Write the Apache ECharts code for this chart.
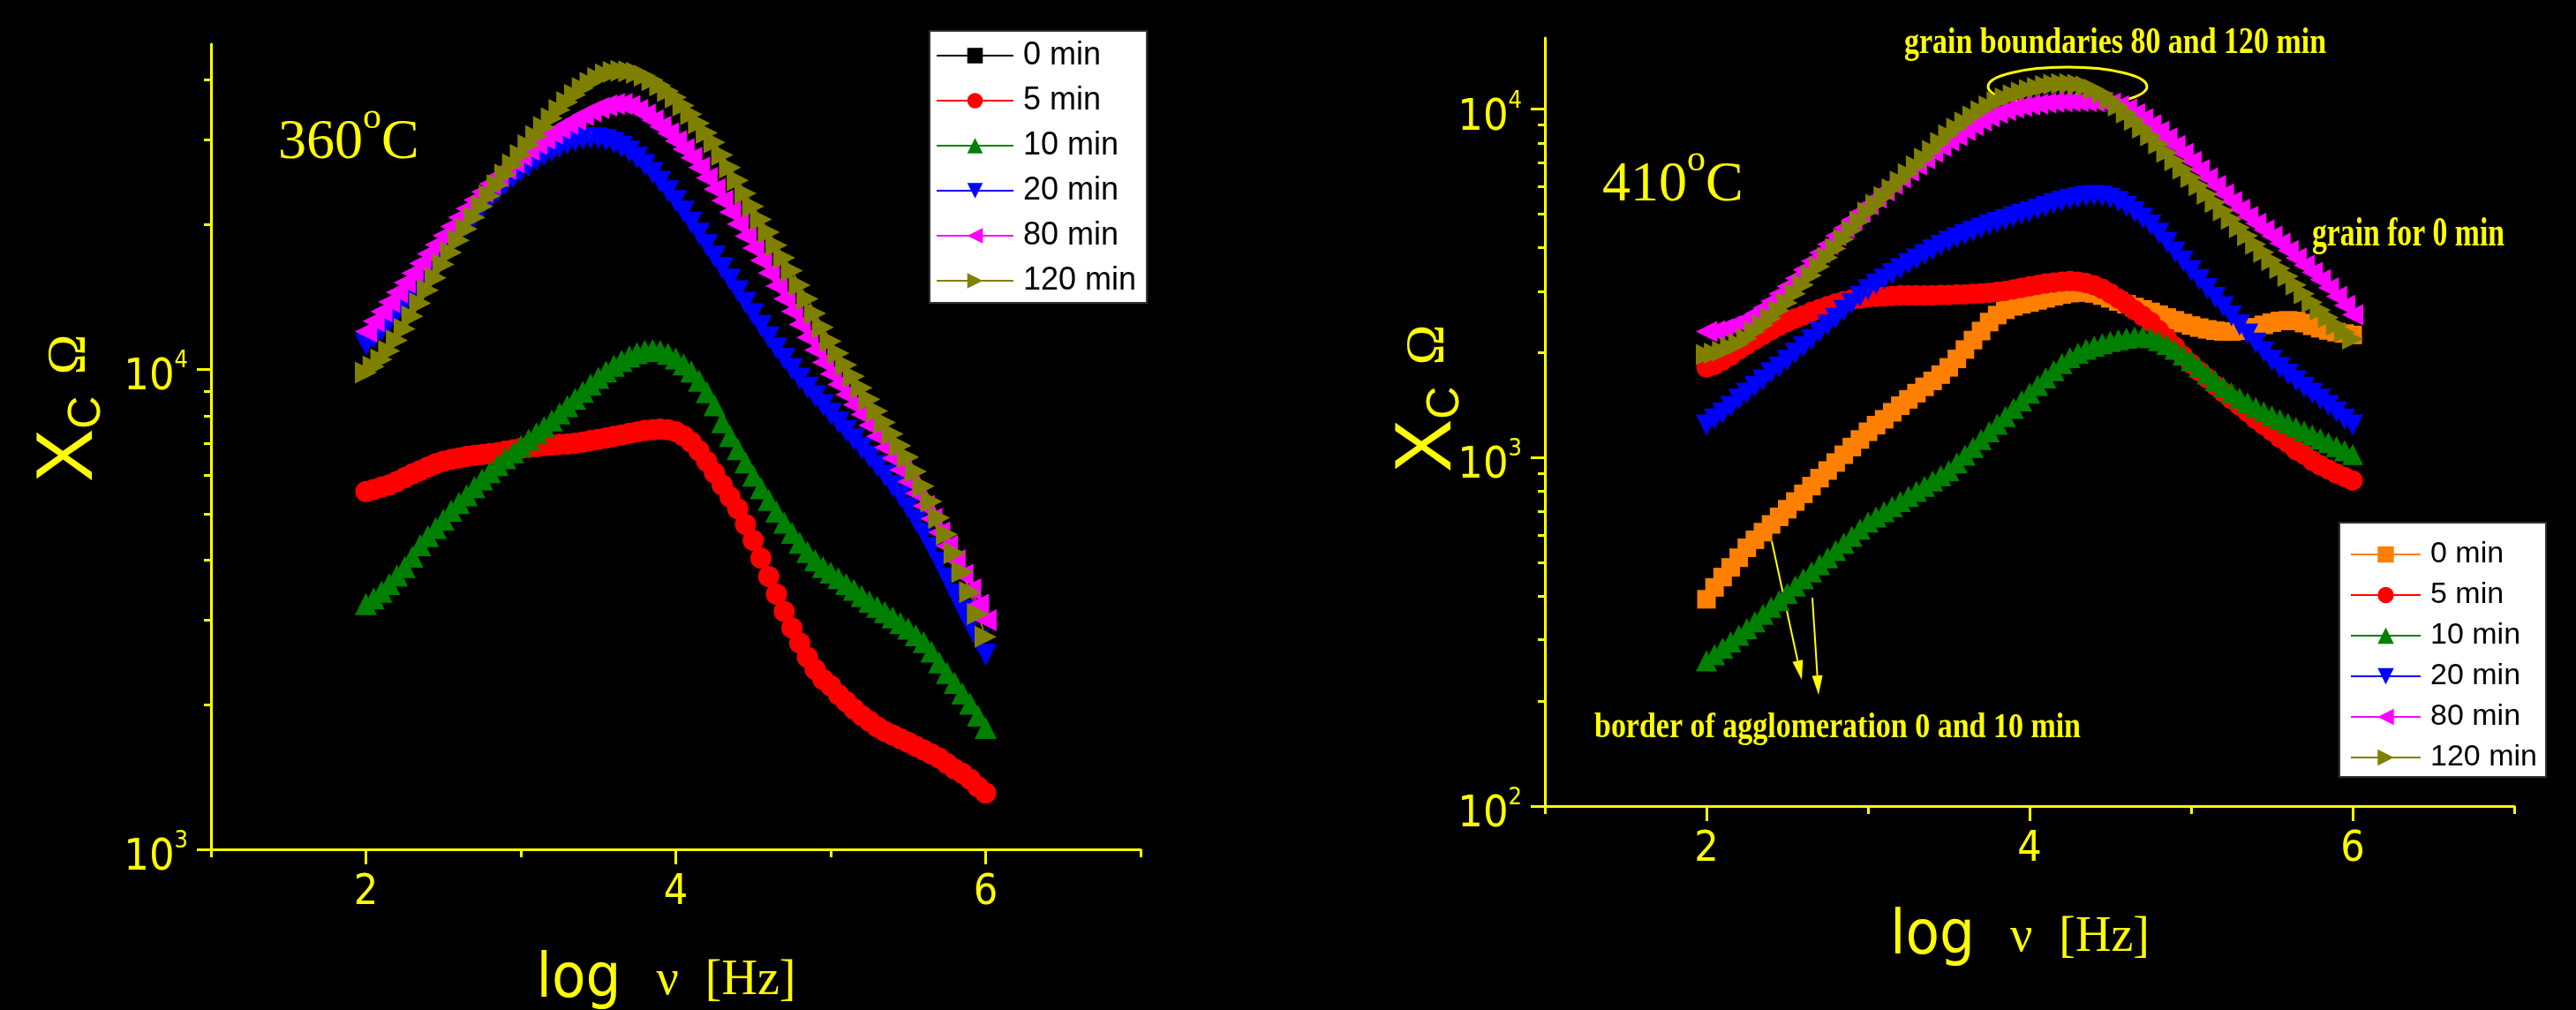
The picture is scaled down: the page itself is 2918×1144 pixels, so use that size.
<!DOCTYPE html>
<html><head><meta charset="utf-8">
<script src="https://cdn.jsdelivr.net/npm/echarts@6/dist/echarts.min.js"></script>
<style>html,body{margin:0;padding:0;background:#000;}#c{width:2918px;height:1144px;}</style>
</head><body><div id="c"></div>
<script>
// ---------- data ----------
const logFreq = [2,2.05,2.1,2.15,2.2,2.25,2.3,2.35,2.4,2.45,2.5,2.55,2.6,2.65,2.7,2.75,2.8,2.85,2.9,2.95,3,3.05,3.1,3.15,3.2,3.25,3.3,3.35,3.4,3.45,3.5,3.55,3.6,3.65,3.7,3.75,3.8,3.85,3.9,3.95,4,4.05,4.1,4.15,4.2,4.25,4.3,4.35,4.4,4.45,4.5,4.55,4.6,4.65,4.7,4.75,4.8,4.85,4.9,4.95,5,5.05,5.1,5.15,5.2,5.25,5.3,5.35,5.4,5.45,5.5,5.55,5.6,5.65,5.7,5.75,5.8,5.85,5.9,5.95,6];

const seriesNames = ['0 min','5 min','10 min','20 min','80 min','120 min'];

// 360 °C
const left0min = [];
const left5min = [5560,5610,5680,5740,5830,5940,6050,6150,6250,6350,
6430,6490,6530,6580,6610,6640,6670,6700,6750,6790,
6840,6870,6900,6930,6950,6970,6980,7010,7050,7100,
7140,7190,7240,7290,7350,7400,7450,7480,7500,7480,
7410,7260,7050,6760,6430,6080,5740,5420,5120,4750,
4400,4040,3700,3400,3130,2890,2690,2510,2370,2260,
2190,2100,2030,1960,1900,1850,1800,1760,1730,1700,
1670,1640,1610,1580,1550,1510,1470,1440,1400,1350,
1310];
const left10min = [3240,3330,3440,3570,3720,3870,4070,4300,4490,4670,
4860,5070,5260,5460,5680,5890,6100,6310,6520,6710,
6920,7130,7350,7570,7820,8090,8370,8670,8970,9290,
9590,9890,10160,10400,10620,10790,10910,10960,10910,10760,
10520,10230,9890,9460,8950,8410,7750,7260,6810,6390,
6000,5650,5340,5050,4790,4560,4350,4160,4000,3870,
3770,3670,3570,3470,3370,3280,3200,3120,3040,2960,
2880,2790,2700,2580,2450,2330,2220,2110,2010,1900,
1790];
const left20min = [11250,11640,12080,12590,13150,13740,14390,15070,15780,16520,
17300,18110,18970,19860,20800,21730,22590,23440,24270,25060,
25820,26550,27230,27860,28440,28970,29440,29850,30130,30270,
30200,29990,29580,29040,28380,27540,26610,25590,24550,23440,
22390,21280,20180,19140,18110,17140,16220,15350,14520,13740,
13000,12300,11640,11040,10500,10000,9550,9140,8770,8410,
8070,7740,7430,7130,6840,6560,6280,6000,5710,5430,
5140,4840,4540,4240,3950,3660,3390,3140,2920,2720,
2540];
const left80min = [11970,12590,13180,13800,14450,15140,15850,16600,17380,18160,
18970,19820,20700,21580,22490,23390,24320,25230,26120,26980,
27800,28640,29440,30200,30970,31700,32430,33110,33810,34430,
34990,35400,35650,35650,35320,34670,33880,32960,31990,30970,
29850,28710,27540,26300,25000,23710,22440,21230,20050,18920,
17860,16830,15850,14890,14000,13180,12390,11640,10960,10330,
9770,9290,8850,8430,8040,7640,7240,6870,6520,6170,
5830,5510,5190,4880,4570,4280,4000,3730,3480,3230,
3000];
const left120min = [9840,10120,10470,10910,11480,12130,12880,13710,14590,15490,
16520,17500,18540,19590,20700,21830,22960,24150,25410,26670,
27930,29240,30550,31920,33270,34670,35970,37240,38460,39450,
40360,41110,41590,41780,41690,41400,40830,39990,38990,37930,
36810,35400,33960,32510,31050,29650,27930,26300,24720,23230,
21830,20510,19280,18110,17060,16030,14960,14000,13060,12220,
11430,10790,10210,9660,9140,8650,8180,7740,7330,6930,
6560,6120,5700,5300,4900,4530,4140,3780,3430,3090,
2770];

// 410 °C
const right0min = [392,424,454,484,516,551,581,611,643,676,
711,748,787,828,873,918,968,1019,1072,1127,
1186,1239,1288,1349,1409,1469,1531,1596,1660,1730,
1815,1919,2042,2173,2307,2449,2564,2655,2716,2754,
2786,2825,2864,2904,2938,2965,2979,2979,2958,2917,
2864,2805,2754,2704,2661,2618,2570,2523,2477,2432,
2393,2360,2333,2312,2301,2301,2312,2333,2366,2404,
2438,2466,2477,2466,2432,2388,2350,2317,2291,2270,
2249];
const right5min = [1815,1845,1900,1960,2040,2110,2180,2250,2320,2390,
2450,2510,2560,2620,2670,2720,2770,2810,2840,2860,
2880,2890,2900,2910,2920,2920,2920,2920,2920,2930,
2930,2940,2940,2950,2960,2970,2990,3010,3040,3070,
3100,3130,3160,3180,3200,3210,3200,3170,3120,3050,
2960,2860,2760,2650,2550,2450,2320,2200,2080,1960,
1860,1770,1690,1610,1540,1470,1410,1350,1290,1240,
1190,1140,1100,1050,1020,980,950,925,900,880,
860];
const right10min = [261,272,284,296,309,323,338,355,372,389,
408,428,449,470,493,516,541,568,594,624,
653,676,700,724,748,774,800,828,857,887,
918,966,1016,1069,1127,1186,1247,1312,1384,1455,
1531,1611,1694,1778,1862,1936,1995,2046,2089,2123,
2153,2178,2203,2218,2223,2208,2168,2113,2046,1972,
1897,1815,1738,1663,1596,1535,1483,1435,1393,1355,
1318,1285,1253,1222,1191,1161,1132,1104,1076,1047,
1021];
const right20min = [1240,1290,1340,1400,1470,1530,1600,1670,1750,1820,
1900,1990,2080,2180,2290,2400,2510,2640,2770,2900,
3030,3140,3250,3370,3480,3600,3710,3820,3940,4060,
4170,4270,4360,4460,4550,4650,4730,4810,4900,4980,
5060,5150,5250,5350,5430,5510,5570,5620,5650,5620,
5550,5420,5260,5070,4860,4650,4400,4140,3890,3660,
3440,3240,3050,2880,2710,2550,2400,2260,2130,2010,
1900,1810,1730,1660,1590,1530,1470,1410,1350,1290,
1240];
const right80min = [2300,2310,2340,2390,2440,2500,2590,2690,2810,2950,
3100,3270,3460,3660,3870,4090,4330,4560,4810,5060,
5310,5560,5820,6080,6350,6640,6920,7210,7520,7820,
8110,8390,8690,8970,9250,9510,9730,9910,10070,10190,
10280,10350,10420,10470,10500,10520,10520,10520,10500,10470,
10400,10230,10000,9700,9380,9020,8650,8260,7870,7460,
7080,6700,6350,6030,5710,5430,5160,4920,4700,4500,
4320,4120,3930,3740,3560,3400,3240,3070,2900,2730,
2570];
const right120min = [1977,1995,2020,2070,2120,2200,2300,2400,2510,2640,
2780,2950,3130,3330,3530,3750,3980,4230,4490,4760,
5060,5330,5610,5900,6210,6530,6870,7230,7600,8020,
8430,8810,9180,9550,9890,10210,10500,10760,10990,11190,
11380,11530,11670,11780,11830,11830,11780,11640,11400,11090,
10660,10210,9750,9290,8830,8380,7940,7520,7110,6730,
6370,6030,5700,5400,5110,4830,4570,4330,4090,3880,
3680,3490,3310,3130,2950,2790,2650,2520,2400,2290,
2190];

// ticks
const xTickLabels = [2, 4, 6];
const xMinorTicks = [1, 3, 5, 7];
const yDecadeExpLeft = [3, 4];
const yDecadeExpRight = [2, 3, 4];
const yMinorLeft = [2000,3000,4000,5000,6000,7000,8000,9000,20000,30000,40000];
const yMinorRight = [200,300,400,500,600,700,800,900,2000,3000,4000,5000,6000,7000,8000,9000];

// ---------- styles ----------
const YEL = '#ffff00';
const SANS_N = "'Liberation Sans Narrow','Arial Narrow','DejaVu Sans Condensed',sans-serif";
const SANS = "'Liberation Sans',Arial,sans-serif";
const SERIF = "'Liberation Serif','Times New Roman',serif";

const colorsLeft  = ['#000000','#ff0000','#008000','#0000ff','#ff00ff','#808000'];
const colorsRight = ['#ff8000','#ff0000','#008000','#0000ff','#ff00ff','#808000'];
const symbols = [['rect',0],['circle',0],['triangle',0],['triangle',180],['triangle',90],['triangle',-90]];

function makeSeries(name, vals, color, sym, xi, yi, size) {
  return {
    type: 'line', name: name, xAxisIndex: xi, yAxisIndex: yi,
    data: vals.map((v, i) => [logFreq[i], v]),
    symbol: sym[0], symbolRotate: sym[1], symbolSize: size,
    showAllSymbol: true, showSymbol: true,
    itemStyle: {color: color},
    lineStyle: {color: color, width: 2},
    emphasis: {disabled: true}, silent: true, animation: false
  };
}

function xAxesFor(gi) {
  return [{
    type: 'value', gridIndex: gi, min: 1, max: 7, position: 'bottom',
    axisLine: {show: true, onZero: false, lineStyle: {color: YEL, width: 3}},
    axisTick: {show: true, customValues: xTickLabels, length: 17, lineStyle: {color: YEL, width: 3}},
    axisLabel: {show: true, customValues: xTickLabels, margin: 26, color: YEL, fontFamily: SANS_N, fontSize: 48},
    splitLine: {show: false},
    name: '{a|log}{w1| }{b|\u03bd}{w2| }{b|[Hz]}{w3| }',
    nameLocation: 'middle', nameGap: 114,
    nameTextStyle: {color: YEL, rich: {
      a: {fontFamily: SANS_N, fontSize: 70, color: YEL},
      b: {fontFamily: SERIF, fontSize: 56, color: YEL},
      w1: {width: 40}, w2: {width: 30}, w3: {width: 22}
    }}
  }, {
    type: 'value', gridIndex: gi, min: 1, max: 7, position: 'bottom',
    axisLine: {show: false, onZero: false},
    axisTick: {show: true, customValues: xMinorTicks, length: 9, lineStyle: {color: YEL, width: 3}},
    axisLabel: {show: false}, splitLine: {show: false}
  }];
}

function yAxesFor(gi, minV, maxV, loExp, decadeExp, minors) {
  const hi = Math.log10(maxV);
  return [{
    type: 'log', gridIndex: gi, min: minV, max: maxV, logBase: 10, show: false, position: 'left',
    axisLine: {onZero: false}, splitLine: {show: false}
  }, {
    type: 'value', gridIndex: gi, min: loExp, max: hi, position: 'left',
    axisLine: {show: true, onZero: false, lineStyle: {color: YEL, width: 3}},
    axisTick: {show: true, customValues: decadeExp, length: 16, lineStyle: {color: YEL, width: 3}},
    axisLabel: {show: true, customValues: decadeExp, margin: 26, color: YEL, padding: [20, 0, 0, 0],
      formatter: v => '{b|10}{s|' + Math.round(v) + '}',
      rich: {
        b: {fontFamily: SANS_N, fontSize: 50, lineHeight: 50, color: YEL},
        s: {fontFamily: SANS_N, fontSize: 27, lineHeight: 27, padding: [0, 0, 38, 0], color: YEL}
      }},
    splitLine: {show: false}
  }, {
    type: 'value', gridIndex: gi, min: loExp, max: hi, position: 'left',
    axisLine: {show: false, onZero: false},
    axisTick: {show: true, customValues: minors.map(Math.log10), length: 8, lineStyle: {color: YEL, width: 3}},
    axisLabel: {show: false}, splitLine: {show: false}
  }];
}

function fitScale(text, font, w) {
  const c = document.createElement('canvas').getContext('2d');
  c.font = font;
  return w / c.measureText(text).width;
}

function txt(x, y, text, rich, extra) {
  return Object.assign({type: 'text', x: x, y: y, silent: true, style: {
    text: text, rich: rich, textAlign: 'left', textVerticalAlign: 'middle', align: 'left', verticalAlign: 'middle'
  }}, extra || {});
}

function annot(x, y, text, size, width) {
  const font = 'bold ' + size + 'px "Liberation Serif"';
  return {type: 'text', x: x, y: y, silent: true, scaleX: fitScale(text, font, width), style: {
    text: text, fill: YEL, fontFamily: SERIF, fontWeight: 'bold', fontSize: size,
    textAlign: 'left', textVerticalAlign: 'middle', align: 'left', verticalAlign: 'middle'
  }};
}

function arrow(x1, y1, x2, y2) {
  const dx = x2 - x1, dy = y2 - y1, L = Math.hypot(dx, dy);
  const ux = dx / L, uy = dy / L, hl = 22, hw = 6;
  const bx = x2 - ux * hl, by = y2 - uy * hl;
  return [
    {type: 'line', silent: true, shape: {x1: x1, y1: y1, x2: bx, y2: by}, style: {stroke: YEL, lineWidth: 2}},
    {type: 'polygon', silent: true, shape: {points: [[x2, y2], [bx - uy * hw, by + ux * hw], [bx + uy * hw, by - ux * hw]]}, style: {fill: YEL}}
  ];
}

const tempRich = {
  t: {fontFamily: SERIF, fontSize: 64, lineHeight: 64, fill: YEL, color: YEL},
  o: {fontFamily: SERIF, fontSize: 42, lineHeight: 42, padding: [0, 0, 57, 0], fill: YEL, color: YEL}
};
const yTitleRich = {
  x: {fontFamily: SANS, fontSize: 90, lineHeight: 90, fill: YEL, color: YEL},
  c: {fontFamily: SANS, fontSize: 52, lineHeight: 52, padding: [40, 0, 0, 0], fill: YEL, color: YEL},
  s: {width: 24},
  o: {fontFamily: SERIF, fontSize: 62, lineHeight: 62, fill: YEL, color: YEL}
};

const leftData = [left0min, left5min, left10min, left20min, left80min, left120min];
const rightData = [right0min, right5min, right10min, right20min, right80min, right120min];
const leftSizes = [21, 24, 25, 25, 25, 25];
const rightSizes = [21, 23, 24, 24, 24, 24];

const series = [];
leftData.forEach((d, i) => series.push(makeSeries(seriesNames[i], d, colorsLeft[i], symbols[i], 0, 0, leftSizes[i])));
rightData.forEach((d, i) => series.push(makeSeries('R ' + seriesNames[i], d, colorsRight[i], symbols[i], 2, 3, rightSizes[i])));

const legendBase = {
  orient: 'vertical', selectedMode: false, backgroundColor: '#ffffff',
  borderColor: '#333333', borderWidth: 2, borderRadius: 0
};

const option = {
  backgroundColor: '#000000',
  animation: false,
  grid: [
    {left: 239, top: 50, width: 1053, height: 912, containLabel: false, outerBoundsMode: 'none'},
    {left: 1750, top: 43, width: 1098, height: 870, containLabel: false, outerBoundsMode: 'none'}
  ],
  xAxis: [...xAxesFor(0), ...xAxesFor(1)],
  yAxis: [...yAxesFor(0, 1000, 47500, 3, yDecadeExpLeft, yMinorLeft),
          ...yAxesFor(1, 100, 16000, 2, yDecadeExpRight, yMinorRight)],
  legend: [
    Object.assign({}, legendBase, {
      left: 1053, top: 35, data: seriesNames,
      itemWidth: 87, itemHeight: 22, itemGap: 11, padding: [8, 12, 5, 7],
      textStyle: {fontFamily: SANS, fontSize: 36, lineHeight: 40, color: '#000', padding: [0, 0, 0, 6]}
    }),
    Object.assign({}, legendBase, {
      left: 2650, top: 592, data: seriesNames.map(n => 'R ' + n),
      formatter: n => n.replace(/^R /, ''),
      itemWidth: 79, itemHeight: 23, itemGap: 10, padding: [18, 10, 4, 12],
      textStyle: {fontFamily: SANS, fontSize: 34, lineHeight: 36, color: '#000', padding: [0, 0, 0, 6]}
    })
  ],
  series: series,
  graphic: [
    txt(315, 162, '{t|360}{o|o}{t|C}', tempRich),
    txt(1815, 210, '{t|410}{o|o}{t|C}', tempRich),
    Object.assign(txt(79, 546, '{x|X}{c|C}{s| }{o|\u03a9}', yTitleRich), {rotation: Math.PI / 2}),
    Object.assign(txt(1618, 535, '{x|X}{c|C}{s| }{o|\u03a9}', yTitleRich), {rotation: Math.PI / 2}),
    annot(2157, 49, 'grain boundaries 80 and 120 min', 42, 478),
    annot(2619, 266, 'grain for 0 min', 46, 218),
    annot(1806, 825, 'border of agglomeration 0 and 10 min', 40, 551),
    {type: 'ellipse', silent: true, shape: {cx: 2342, cy: 98, rx: 90, ry: 22}, style: {fill: 'none', stroke: YEL, lineWidth: 3}},
    {type: 'line', silent: true, shape: {x1: 2628, y1: 317, x2: 2600, y2: 348}, style: {stroke: '#000', lineWidth: 2}},
    ...arrow(2007, 613, 2041, 770),
    ...arrow(2053, 677, 2060, 787)
  ]
};

const chart = echarts.init(document.getElementById('c'), null, {renderer: 'canvas'});
chart.setOption(option);
</script>
</body></html>
